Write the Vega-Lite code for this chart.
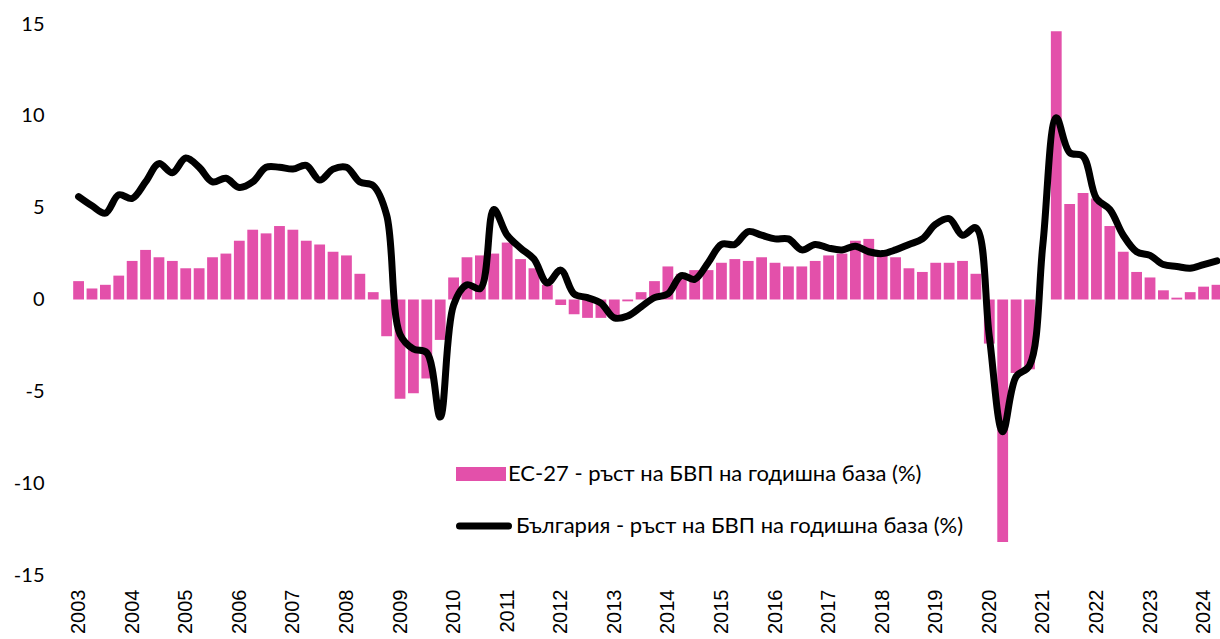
{
  "$schema": "https://vega.github.io/schema/vega-lite/v6.json",
  "width": 1153,
  "height": 551,
  "autosize": {"type": "none"},
  "padding": {"left": 67, "top": 24, "right": 0, "bottom": 64},
  "background": "white",
  "config": {"view": {"stroke": null}, "font": "Lato"},
  "data": {"values": [
    {"period": 2003.00, "eu": 1.0, "bg": 5.6},
    {"period": 2003.25, "eu": 0.6, "bg": 5.1},
    {"period": 2003.50, "eu": 0.8, "bg": 4.7},
    {"period": 2003.75, "eu": 1.3, "bg": 5.7},
    {"period": 2004.00, "eu": 2.1, "bg": 5.5},
    {"period": 2004.25, "eu": 2.7, "bg": 6.4},
    {"period": 2004.50, "eu": 2.3, "bg": 7.4},
    {"period": 2004.75, "eu": 2.1, "bg": 6.9},
    {"period": 2005.00, "eu": 1.7, "bg": 7.7},
    {"period": 2005.25, "eu": 1.7, "bg": 7.2},
    {"period": 2005.50, "eu": 2.3, "bg": 6.4},
    {"period": 2005.75, "eu": 2.5, "bg": 6.6},
    {"period": 2006.00, "eu": 3.2, "bg": 6.1},
    {"period": 2006.25, "eu": 3.8, "bg": 6.4},
    {"period": 2006.50, "eu": 3.6, "bg": 7.2},
    {"period": 2006.75, "eu": 4.0, "bg": 7.2},
    {"period": 2007.00, "eu": 3.8, "bg": 7.1},
    {"period": 2007.25, "eu": 3.2, "bg": 7.3},
    {"period": 2007.50, "eu": 3.0, "bg": 6.5},
    {"period": 2007.75, "eu": 2.6, "bg": 7.1},
    {"period": 2008.00, "eu": 2.4, "bg": 7.2},
    {"period": 2008.25, "eu": 1.4, "bg": 6.4},
    {"period": 2008.50, "eu": 0.4, "bg": 6.2},
    {"period": 2008.75, "eu": -2.0, "bg": 4.6},
    {"period": 2009.00, "eu": -5.4, "bg": -1.9},
    {"period": 2009.25, "eu": -5.1, "bg": -2.7},
    {"period": 2009.50, "eu": -4.3, "bg": -2.9},
    {"period": 2009.75, "eu": -2.2, "bg": -6.4},
    {"period": 2010.00, "eu": 1.2, "bg": -0.3},
    {"period": 2010.25, "eu": 2.3, "bg": 0.8},
    {"period": 2010.50, "eu": 2.4, "bg": 0.6},
    {"period": 2010.75, "eu": 2.5, "bg": 4.9},
    {"period": 2011.00, "eu": 3.1, "bg": 3.5},
    {"period": 2011.25, "eu": 2.2, "bg": 2.8},
    {"period": 2011.50, "eu": 1.7, "bg": 2.2},
    {"period": 2011.75, "eu": 0.8, "bg": 0.9},
    {"period": 2012.00, "eu": -0.3, "bg": 1.6},
    {"period": 2012.25, "eu": -0.8, "bg": 0.3},
    {"period": 2012.50, "eu": -1.0, "bg": 0.1},
    {"period": 2012.75, "eu": -1.0, "bg": -0.2},
    {"period": 2013.00, "eu": -0.9, "bg": -1.0},
    {"period": 2013.25, "eu": -0.1, "bg": -0.9},
    {"period": 2013.50, "eu": 0.4, "bg": -0.4},
    {"period": 2013.75, "eu": 1.0, "bg": 0.1},
    {"period": 2014.00, "eu": 1.8, "bg": 0.3},
    {"period": 2014.25, "eu": 1.4, "bg": 1.3},
    {"period": 2014.50, "eu": 1.6, "bg": 1.1},
    {"period": 2014.75, "eu": 1.6, "bg": 2.0},
    {"period": 2015.00, "eu": 2.0, "bg": 3.0},
    {"period": 2015.25, "eu": 2.2, "bg": 3.0},
    {"period": 2015.50, "eu": 2.1, "bg": 3.7},
    {"period": 2015.75, "eu": 2.3, "bg": 3.5},
    {"period": 2016.00, "eu": 2.0, "bg": 3.3},
    {"period": 2016.25, "eu": 1.8, "bg": 3.3},
    {"period": 2016.50, "eu": 1.8, "bg": 2.7},
    {"period": 2016.75, "eu": 2.1, "bg": 3.0},
    {"period": 2017.00, "eu": 2.4, "bg": 2.8},
    {"period": 2017.25, "eu": 2.5, "bg": 2.7},
    {"period": 2017.50, "eu": 3.2, "bg": 2.9},
    {"period": 2017.75, "eu": 3.3, "bg": 2.6},
    {"period": 2018.00, "eu": 2.5, "bg": 2.5},
    {"period": 2018.25, "eu": 2.3, "bg": 2.7},
    {"period": 2018.50, "eu": 1.7, "bg": 3.0},
    {"period": 2018.75, "eu": 1.5, "bg": 3.3},
    {"period": 2019.00, "eu": 2.0, "bg": 4.1},
    {"period": 2019.25, "eu": 2.0, "bg": 4.4},
    {"period": 2019.50, "eu": 2.1, "bg": 3.5},
    {"period": 2019.75, "eu": 1.4, "bg": 3.9},
    {"period": 2020.00, "eu": -2.4, "bg": -2.0},
    {"period": 2020.25, "eu": -13.2, "bg": -7.2},
    {"period": 2020.50, "eu": -4.0, "bg": -4.2},
    {"period": 2020.75, "eu": -3.8, "bg": -3.6},
    {"period": 2021.00, "eu": 0.0, "bg": 3.0},
    {"period": 2021.25, "eu": 14.6, "bg": 9.9},
    {"period": 2021.50, "eu": 5.2, "bg": 8.0},
    {"period": 2021.75, "eu": 5.8, "bg": 7.8},
    {"period": 2022.00, "eu": 5.5, "bg": 5.5},
    {"period": 2022.25, "eu": 4.0, "bg": 4.9},
    {"period": 2022.50, "eu": 2.6, "bg": 3.5},
    {"period": 2022.75, "eu": 1.5, "bg": 2.6},
    {"period": 2023.00, "eu": 1.2, "bg": 2.4},
    {"period": 2023.25, "eu": 0.5, "bg": 1.9},
    {"period": 2023.50, "eu": 0.1, "bg": 1.8},
    {"period": 2023.75, "eu": 0.4, "bg": 1.7},
    {"period": 2024.00, "eu": 0.7, "bg": 1.9},
    {"period": 2024.25, "eu": 0.8, "bg": 2.1}
  ]},
  "encoding": {
    "x": {
      "field": "period",
      "type": "quantitative",
      "scale": {"domain": [2002.877, 2024.213], "nice": false, "zero": false},
      "axis": {
        "title": null,
        "values": [2003, 2004, 2005, 2006, 2007, 2008, 2009, 2010, 2011, 2012, 2013, 2014, 2015, 2016, 2017, 2018, 2019, 2020, 2021, 2022, 2023, 2024],
        "format": "d",
        "labelAngle": -90,
        "labelAlign": "right",
        "labelBaseline": "middle",
        "ticks": false,
        "tickSize": 0,
        "domain": false,
        "grid": false,
        "labelPadding": 14,
        "labelFont": "Liberation Sans",
        "labelFontSize": 20,
        "labelColor": "#000000",
        "labelOverlap": false,
        "labelFlush": false,
        "labelBound": false
      }
    }
  },
  "layer": [
    {
      "mark": {"type": "bar", "width": 10.8, "clip": true},
      "encoding": {
        "y": {
          "field": "eu",
          "type": "quantitative",
          "scale": {"domain": [-15, 15], "nice": false},
          "axis": {
            "title": null,
            "values": [-15, -10, -5, 0, 5, 10, 15],
            "labelExpr": "'' + datum.value",
            "ticks": false,
            "tickSize": 0,
            "domain": false,
            "grid": false,
            "labelPadding": 23,
            "labelFont": "Lato",
            "labelFontSize": 20,
            "labelColor": "#000000"
          }
        },
        "fill": {
          "datum": "ЕС-27 - ръст на БВП на годишна база (%)",
          "scale": {"range": ["#e350aa"]},
          "legend": {
            "orient": "none",
            "legendX": 389,
            "legendY": 425,
            "title": null,
            "padding": 0,
            "symbolOffset": 0,
            "symbolType": "M-1,-0.28H1V0.28H-1Z",
            "symbolSize": 2500,
            "symbolStrokeWidth": 0,
            "labelFont": "Lato",
            "labelFontSize": 22,
            "labelColor": "#000000",
            "labelOffset": 2,
            "labelLimit": 600
          }
        }
      }
    },
    {
      "mark": {"type": "rule", "color": "#d9d9d9", "strokeWidth": 1.5},
      "encoding": {"y": {"datum": 0}}
    },
    {
      "mark": {"type": "line", "interpolate": "catmull-rom", "strokeWidth": 7, "strokeCap": "round", "strokeJoin": "round", "clip": true},
      "encoding": {
        "y": {"field": "bg", "type": "quantitative"},
        "stroke": {
          "datum": "България - ръст на БВП на годишна база (%)",
          "scale": {"range": ["#000000"]},
          "legend": {
            "orient": "none",
            "legendX": 389,
            "legendY": 474,
            "title": null,
            "padding": 0,
            "symbolOffset": 0,
            "symbolType": "stroke",
            "symbolSize": 2401,
            "symbolStrokeWidth": 7,
            "labelFont": "Lato",
            "labelFontSize": 22,
            "labelColor": "#000000",
            "labelOffset": 4,
            "labelLimit": 600,
            "encode": {"symbols": {"update": {"strokeCap": {"value": "round"}}}}
          }
        }
      }
    }
  ]
}
